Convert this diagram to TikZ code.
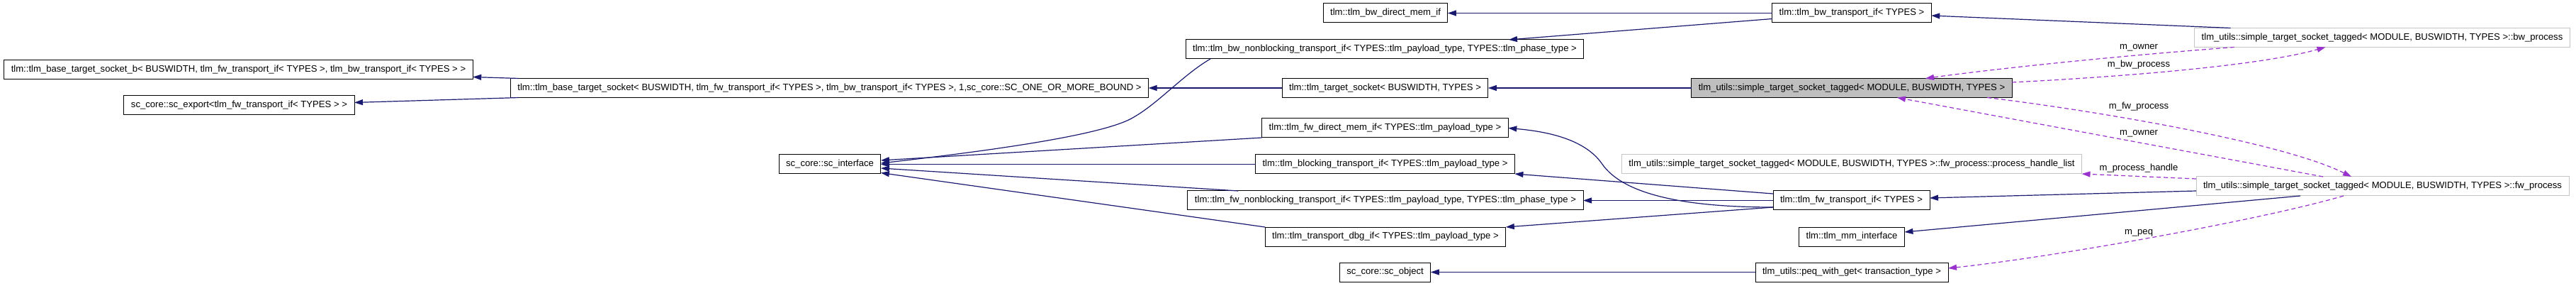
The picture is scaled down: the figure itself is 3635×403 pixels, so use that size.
\documentclass[tikz,border=0pt]{standalone}
\usepackage{fontspec}
\setmainfont{Liberation Sans}
\usepackage{xcolor}
\usetikzlibrary{arrows.meta, calc}

\definecolor{edgeblue}{HTML}{191970}
\definecolor{edgepurple}{HTML}{9A32CD}
\definecolor{boxgray}{HTML}{BFBFBF}
\definecolor{lightframe}{HTML}{C4C4C4}

\tikzset{
    cls/.style={draw=black, line width=1pt, fill=white, inner xsep=10pt, inner ysep=0pt,
        minimum height=27pt, outer sep=0pt, font=\fontsize{13.1}{15}\selectfont},
    nestcls/.style={cls, draw=lightframe},
    curcls/.style={cls, fill=boxgray},
    inh/.style={-{Triangle[length=12pt,width=8pt]}, edgeblue, line width=1.2pt},
    usage/.style={-{Triangle[length=12pt,width=8pt]}, edgepurple, line width=1.2pt, dash pattern=on 6pt off 4pt},
    lbl/.style={font=\fontsize{13.1}{15}\selectfont, inner sep=1pt},
}

\begin{document}
\begin{tikzpicture}[x=1pt,y=1pt]
        \useasboundingbox (0,0) rectangle (3635,-403);

        % Classes
        \node[cls] (baseb) at (336.5,-98.5) {tlm::tlm\_base\_target\_socket\_b< BUSWIDTH, tlm\_fw\_transport\_if< TYPES >, tlm\_bw\_transport\_if< TYPES > >};
        \node[cls] (scexport) at (337.5,-148.5) {sc\_core::sc\_export<tlm\_fw\_transport\_if< TYPES > >};
        \node[cls] (base) at (1170.5,-124) {tlm::tlm\_base\_target\_socket< BUSWIDTH, tlm\_fw\_transport\_if< TYPES >, tlm\_bw\_transport\_if< TYPES >, 1,sc\_core::SC\_ONE\_OR\_MORE\_BOUND >};
        \node[cls] (scif) at (1171,-231.5) {sc\_core::sc\_interface};
        \node[cls] (bwdmi) at (1955,-18.5) {tlm::tlm\_bw\_direct\_mem\_if};
        \node[cls] (bwnb) at (1954,-69.5) {tlm::tlm\_bw\_nonblocking\_transport\_if< TYPES::tlm\_payload\_type, TYPES::tlm\_phase\_type >};
        \node[cls] (tsock) at (1954.5,-124) {tlm::tlm\_target\_socket< BUSWIDTH, TYPES >};
        \node[cls] (fwdmi) at (1954.5,-180.5) {tlm::tlm\_fw\_direct\_mem\_if< TYPES::tlm\_payload\_type >};
        \node[cls] (block) at (1954.5,-231.5) {tlm::tlm\_blocking\_transport\_if< TYPES::tlm\_payload\_type >};
        \node[cls] (fwnb) at (1955,-282.5) {tlm::tlm\_fw\_nonblocking\_transport\_if< TYPES::tlm\_payload\_type, TYPES::tlm\_phase\_type >};
        \node[cls] (dbg) at (1955,-333.5) {tlm::tlm\_transport\_dbg\_if< TYPES::tlm\_payload\_type >};
        \node[cls] (scobj) at (1954.5,-383.5) {sc\_core::sc\_object};
        \node[cls] (bwtrans) at (2613,-18.5) {tlm::tlm\_bw\_transport\_if< TYPES >};
        \node[curcls] (tagged) at (2613,-124) {tlm\_utils::simple\_target\_socket\_tagged< MODULE, BUSWIDTH, TYPES >};
        \node[nestcls] (phl) at (2613,-231.5) {tlm\_utils::simple\_target\_socket\_tagged< MODULE, BUSWIDTH, TYPES >::fw\_process::process\_handle\_list};
        \node[cls] (fwtrans) at (2612.5,-282.5) {tlm::tlm\_fw\_transport\_if< TYPES >};
        \node[cls] (mmif) at (2613,-333.5) {tlm::tlm\_mm\_interface};
        \node[cls] (peq) at (2613,-383.5) {tlm\_utils::peq\_with\_get< transaction\_type >};
        \node[nestcls] (bwproc) at (3361.5,-53) {tlm\_utils::simple\_target\_socket\_tagged< MODULE, BUSWIDTH, TYPES >::bw\_process};
        \node[nestcls] (fwproc) at (3362,-262.5) {tlm\_utils::simple\_target\_socket\_tagged< MODULE, BUSWIDTH, TYPES >::fw\_process};

        % Member labels
        \foreach \y/\name/\txt in {-67/lowner/m\_owner, -91/lbwproc/m\_bw\_process, -150/lfwproc/m\_fw\_process,
                -188/lownerb/m\_owner, -237/lhandle/m\_process\_handle, -328/lpeq/m\_peq} {
            \node[lbl] (\name) at (3018,\y) {\txt};
        }

        % Inheritance
        \draw[inh] ([xshift=12pt]base.north west) -- ([yshift=-10pt]baseb.east);
        \draw[inh] ([xshift=12pt]base.south west) -- ([yshift=4pt]scexport.east);
        \draw[inh] (tsock.west) -- (base.east);
        \draw[inh] (tagged.west) -- (tsock.east);
        \draw[inh] (bwtrans.west) -- (bwdmi.east);
        \draw[inh] ([yshift=-8pt]bwtrans.west) -- ([xshift=175pt]bwnb.north);
        \draw[inh] ([xshift=51pt]bwproc.north west) -- ([yshift=-3.5pt]bwtrans.east);
        \draw[inh] ([xshift=-246pt]bwnb.south) .. controls (1670,-105) and (1635,-145) .. (1600,-165)
            .. controls (1560,-190) and (1400,-212) .. ([yshift=1.5pt]scif.east);
        \draw[inh] (fwdmi.south west) -- ([yshift=5.5pt]scif.east);
        \draw[inh] (block.west) -- (scif.east);
        \draw[inh] ([xshift=-208pt]fwnb.north) -- ([yshift=-5.5pt]scif.east);
        \draw[inh] (dbg.north west) -- ([yshift=-12pt]scif.east);
        \draw[inh] ([yshift=-9.5pt]fwtrans.west) .. controls (2380,-292) and (2290,-275) .. (2260,-230)
            .. controls (2235,-195) and (2180,-185) .. (fwdmi.east);
        \draw[inh] ([yshift=9.5pt]fwtrans.west) -- (block.south east);
        \draw[inh] (fwtrans.west) -- (fwnb.east);
        \draw[inh] ([yshift=-9.5pt]fwtrans.west) -- (dbg.north east);
        \draw[inh] (peq.west) -- (scobj.east);
        \draw[inh] ([yshift=-6.5pt]fwproc.west) -- ([yshift=3.5pt]fwtrans.east);
        \draw[inh] ([xshift=-116pt]fwproc.south) -- ([yshift=6.5pt]mmif.east);

        % Usage
        \draw[usage] ([xshift=56pt]bwproc.south west) .. controls (3000,-78) and (2830,-95) .. ([xshift=104pt]tagged.north);
        \draw[usage] ([yshift=8pt]tagged.east) .. controls (2960,-110) and (3180,-95) .. ([xshift=-80pt]bwproc.south);
        \draw[usage] ([xshift=191pt]tagged.south) .. controls (2950,-155) and (3220,-200) .. ([xshift=-44pt]fwproc.north);
        \draw[usage] ([xshift=-84pt]fwproc.north) -- ([xshift=64pt]tagged.south);
        \draw[usage] ([yshift=10.5pt]fwproc.west) -- (phl.south east);
        \draw[usage] ([xshift=-55pt]fwproc.south) .. controls (3190,-310) and (2900,-362) .. ([yshift=5.5pt]peq.east);
\end{tikzpicture}
\end{document}
